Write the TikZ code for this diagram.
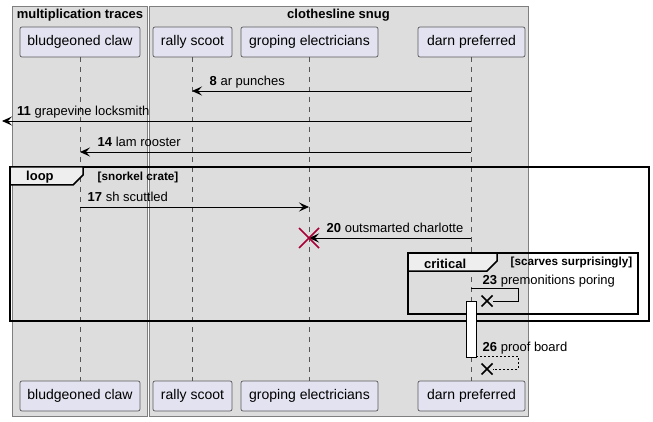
\documentclass[tikz,border=0pt]{standalone}
\usepackage{fontspec}
\setmainfont{Liberation Sans}
\usetikzlibrary{arrows.meta}
\definecolor{grpbg}{HTML}{DDDDDD}
\definecolor{grpline}{HTML}{7F7F7F}
\definecolor{partbg}{HTML}{E2E2F0}
\definecolor{partline}{HTML}{5A5A5A}
\definecolor{lifeline}{HTML}{555555}
\definecolor{tabbg}{HTML}{EEEEEE}
\definecolor{destroyred}{HTML}{A80036}
\tikzset{
  grpbox/.style={fill=grpbg, draw=grpline, line width=0.8pt},
  grptitle/.style={font=\fontsize{13}{15}\selectfont\bfseries, inner sep=0pt, anchor=base},
  part/.style={draw=partline, fill=partbg, line width=0.7pt, rounded corners=2pt,
    minimum height=30pt, inner sep=0pt, text height=10pt, text depth=3pt,
    font=\fontsize{14}{16}\selectfont},
  life/.style={draw=lifeline, line width=0.6pt, dash pattern=on 5pt off 5pt},
  msg/.style={draw=black, line width=0.9pt, -{Stealth[length=10pt,width=9pt,inset=4pt]}},
  lbl/.style={font=\fontsize{13}{15}\selectfont, inner sep=0pt, anchor=base west},
  frm/.style={draw=black, line width=1.5pt},
  tab/.style={draw=black, line width=1.5pt, fill=tabbg, line join=miter},
  frmlbl/.style={font=\fontsize{13}{15}\selectfont\bfseries, inner sep=0pt, anchor=base west},
  guard/.style={font=\fontsize{11.7}{14}\selectfont\bfseries, inner sep=0pt},
  actbar/.style={draw=black, fill=white, line width=0.8pt},
  lostx/.style={draw=black, line width=1.6pt},
}
\begin{document}
\begin{tikzpicture}[x=1pt, y=-1pt]
\useasboundingbox (0,0) rectangle (653,422);
% groups
\draw[grpbox] (12,6) rectangle (147,416);
\draw[grpbox] (149,6) rectangle (528,416);
\node[grptitle] (g1) at (80,18.5) {multiplication traces};
\node[grptitle] (g2) at (338.5,18.5) {clothesline snug};
% participants
\node[part, minimum width=120pt] (bc) at (80,42) {bludgeoned claw};
\node[part, minimum width=79pt] (rs) at (192.5,42) {rally scoot};
\node[part, minimum width=137pt] (ge) at (309.5,42) {groping electricians};
\node[part, minimum width=107pt] (dp) at (471.5,42) {darn preferred};
\node[part, minimum width=120pt] (bcb) at (80,396) {bludgeoned claw};
\node[part, minimum width=79pt] (rsb) at (192.5,396) {rally scoot};
\node[part, minimum width=137pt] (geb) at (309.5,396) {groping electricians};
\node[part, minimum width=107pt] (dpb) at (471.5,396) {darn preferred};
% lifelines
\coordinate (bct) at (80,57); \coordinate (bcz) at (80,381);
\coordinate (rst) at (192,57); \coordinate (rsz) at (192,381);
\coordinate (get) at (309,57); \coordinate (gez) at (309,381);
\coordinate (dpt) at (471,57); \coordinate (dpz) at (471,381);
\draw[life] (bct) -- (bcz);
\draw[life] (rst) -- (rsz);
\draw[life] (get) -- (gez);
\draw[life] (dpt) -- (dpz);
% frames
\draw[frm] (10,167) rectangle (649,321);
\draw[tab] (10,167) -- (83,167) -- (83,175) -- (73,185) -- (10,185) -- cycle;
\node[frmlbl] (loopl) at (26,181) {loop};
\node[guard, anchor=base west] (loopg) at (97.5,180.5) {[snorkel crate]};
\draw[frm] (408,253) rectangle (638,314);
\draw[tab] (408,253) -- (497,253) -- (497,261) -- (487,271) -- (408,271) -- cycle;
\node[frmlbl] (critl) at (424,268) {critical};
\node[guard, anchor=base east] (critg) at (632.5,265.5) {[scarves surprisingly]};
% message 8
\coordinate (m8a) at (471,91); \coordinate (m8b) at (192,91);
\draw[msg] (m8a) -- (m8b);
\node[lbl] (l8) at (209.5,85.5) {\textbf{8} ar punches};
% message 11
\coordinate (m11a) at (471,121); \coordinate (m11b) at (2,121);
\draw[msg] (m11a) -- (m11b);
\node[lbl] (l11) at (17,115.5) {\textbf{11} grapevine locksmith};
% message 14
\coordinate (m14a) at (471,152); \coordinate (m14b) at (80,152);
\draw[msg] (m14a) -- (m14b);
\node[lbl] (l14) at (97.5,146.5) {\textbf{14} lam rooster};
% message 17
\coordinate (m17a) at (80,207); \coordinate (m17b) at (309,207);
\draw[msg] (m17a) -- (m17b);
\node[lbl] (l17) at (87.5,201.5) {\textbf{17} sh scuttled};
% message 20 with destroy
\coordinate (m20a) at (471,238); \coordinate (m20b) at (309,238);
\draw[msg] (m20a) -- (m20b);
\node[lbl] (l20) at (326.5,232.5) {\textbf{20} outsmarted charlotte};
\coordinate (x20) at (309,238);
\draw[destroyred, line width=1.5pt] ([shift={(-10,-10)}]x20) -- ([shift={(10,10)}]x20);
\draw[destroyred, line width=1.5pt] ([shift={(-10,10)}]x20) -- ([shift={(10,-10)}]x20);
% message 23 self lost
\coordinate (m23a) at (471,288); \coordinate (m23x) at (487,301);
\draw[black, line width=0.9pt] (m23a) -- (518,288) -- (518,301) -- ([xshift=5.5pt]m23x);
\draw[lostx] ([shift={(-5.5,-5.5)}]m23x) -- ([shift={(5.5,5.5)}]m23x);
\draw[lostx] ([shift={(-5.5,5.5)}]m23x) -- ([shift={(5.5,-5.5)}]m23x);
\node[lbl] (l23) at (482.5,284) {\textbf{23} premonitions poring};
% activation
\draw[actbar] (466,301) rectangle (476,357);
% message 26 dashed self lost
\coordinate (m26a) at (476,356); \coordinate (m26x) at (487,369);
\draw[black, line width=0.8pt, dash pattern=on 2pt off 2pt] (m26a) -- (518,356) -- (518,369) -- ([xshift=5.5pt]m26x);
\draw[lostx] ([shift={(-5.5,-5.5)}]m26x) -- ([shift={(5.5,5.5)}]m26x);
\draw[lostx] ([shift={(-5.5,5.5)}]m26x) -- ([shift={(5.5,-5.5)}]m26x);
\node[lbl] (l26) at (482.5,351) {\textbf{26} proof board};
\end{tikzpicture}
\end{document}
